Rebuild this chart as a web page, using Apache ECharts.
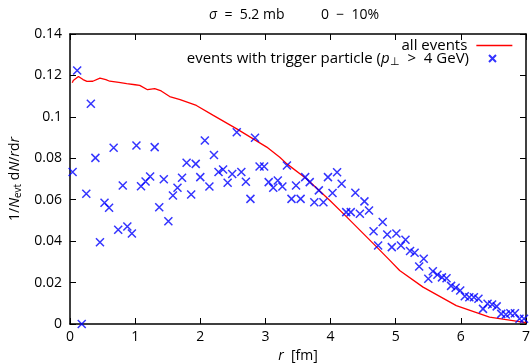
<!DOCTYPE html>
<html><head><meta charset="utf-8">
<script src="https://cdn.jsdelivr.net/npm/echarts@6/dist/echarts.min.js"></script>
<style>html,body{margin:0;padding:0;background:#fff}#c{width:531px;height:364px}</style>
</head><body><div id="c"></div>
<script>
const FONT = 'Open Sans';
const xTickLabels = ['0','1','2','3','4','5','6','7'];
const yTickLabels = ['0','0.02','0.04','0.06','0.08','0.1','0.12','0.14'];

const allR = [0.035,0.05,0.13,0.2,0.26,0.35,0.46,0.55,0.61,0.75,0.87,1.0,1.07,1.19,1.3,1.4,1.53,1.69,1.94,2.2,2.56,3.02,3.22,3.33,3.63,3.99,4.25,4.71,4.91,5.06,5.42,5.93,6.44,6.95,7.0];
const allY = [0.1165,0.1176,0.1195,0.1180,0.1171,0.1172,0.1187,0.1180,0.1172,0.1166,0.1160,0.1155,0.1152,0.1131,0.1136,0.1125,0.1098,0.1083,0.1055,0.1007,0.0942,0.0854,0.0805,0.0773,0.0701,0.0596,0.0516,0.0371,0.0307,0.0258,0.0178,0.0089,0.0033,0.0009,0.0006];

const trigR = [0.04,0.11,0.18,0.25,0.32,0.39,0.46,0.53,0.6,0.67,0.74,0.81,0.88,0.95,1.02,1.09,1.16,1.23,1.3,1.37,1.44,1.51,1.58,1.65,1.72,1.79,1.86,1.93,2.0,2.07,2.14,2.21,2.28,2.35,2.42,2.49,2.56,2.63,2.7,2.77,2.84,2.91,2.98,3.05,3.12,3.19,3.26,3.33,3.4,3.47,3.54,3.61,3.68,3.75,3.82,3.89,3.96,4.03,4.1,4.17,4.24,4.31,4.38,4.45,4.52,4.59,4.66,4.73,4.8,4.87,4.94,5.01,5.08,5.15,5.22,5.29,5.36,5.43,5.5,5.57,5.64,5.71,5.78,5.85,5.92,5.99,6.06,6.13,6.2,6.27,6.34,6.41,6.48,6.55,6.62,6.69,6.76,6.83,6.9,6.97];
const trigY = [0.0734,0.1224,0.0000,0.0629,0.1063,0.0802,0.0395,0.0585,0.0561,0.0851,
0.0455,0.0669,0.0471,0.0437,0.0862,0.0665,0.0688,0.0712,0.0854,0.0564,
0.0699,0.0496,0.0620,0.0658,0.0706,0.0778,0.0625,0.0773,0.0709,0.0886,
0.0664,0.0816,0.0734,0.0746,0.0682,0.0724,0.0926,0.0734,0.0687,0.0604,
0.0899,0.0760,0.0760,0.0685,0.0658,0.0693,0.0664,0.0765,0.0604,0.0669,
0.0604,0.0709,0.0685,0.0588,0.0645,0.0588,0.0709,0.0632,0.0733,0.0677,
0.0540,0.0540,0.0634,0.0532,0.0592,0.0548,0.0448,0.0379,0.0492,0.0432,
0.0371,0.0437,0.0379,0.0407,0.0352,0.0344,0.0278,0.0315,0.0218,0.0255,
0.0238,0.0225,0.0221,0.0184,0.0175,0.0162,0.0134,0.0129,0.0129,0.0122,
0.0073,0.0098,0.0094,0.0085,0.0049,0.0046,0.0052,0.0052,0.0025,0.0025];

const chart = echarts.init(document.getElementById('c'));
const axisLine = {show: true, onZero: false, lineStyle: {color: '#000', width: 1.5}};
const tick = {show: true, inside: true, length: 6, lineStyle: {color: '#000', width: 1}};
const labelStyle = {color: '#000', fontFamily: FONT, fontSize: 14};
const CROSS = 'path://M0 0L8 8M8 0L0 8';
chart.setOption({
  animation: false,
  backgroundColor: '#fff',
  title: {
    text: '{i|σ}  =  5.2 mb          0  −  10%',
    left: 289, textAlign: 'center', top: 3,
    textStyle: {fontFamily: FONT, fontSize: 14, fontWeight: 'normal', color: '#000',
      rich: {i: {fontFamily: FONT, fontSize: 14, fontStyle: 'italic', color: '#000'}}}
  },
  grid: {left: 70, right: 5, top: 34, bottom: 40, outerBoundsMode: 'none', containLabel: false},
  legend: [
    {data: ['all events'], align: 'right', right: 18, top: 38, padding: 0,
     itemWidth: 36, itemHeight: 10,
     itemStyle: {color: 'rgba(0,0,0,0)', borderColor: 'rgba(0,0,0,0)', borderWidth: 0},
     lineStyle: {color: '#ff0000', width: 1.3},
     formatter: '{t|all events}{p|}',
     textStyle: {color: '#000', fontFamily: FONT, fontSize: 15, rich: {t: {fontFamily: FONT, fontSize: 15, color: '#000'}, p: {width: 4}}}},
    {data: ['trigger'], align: 'right', right: 34, top: 51, padding: 0, itemWidth: 7, itemHeight: 7,
     formatter: '{t|events with trigger particle (}{i|p}{s|⊥}{t|  >  4 GeV)}{p|}',
     textStyle: {color: '#000', fontFamily: FONT, fontSize: 15,
       rich: {t: {fontFamily: FONT, fontSize: 15, color: '#000'},
              i: {fontFamily: FONT, fontSize: 15, fontStyle: 'italic', color: '#000'},
              s: {fontFamily: FONT, fontSize: 11, color: '#000', padding: [6, 0, 0, 0]},
              p: {width: 15}}}}
  ],
  xAxis: [
    {type: 'value', min: 0, max: 7, interval: 1, position: 'bottom',
     axisLine, axisTick: tick, splitLine: {show: false},
     axisLabel: Object.assign({margin: 6, formatter: v => xTickLabels[Math.round(v)]}, labelStyle),
     name: '{i|r}  [fm]', nameLocation: 'middle', nameGap: 21,
     nameTextStyle: {fontFamily: FONT, fontSize: 14, color: '#000',
       rich: {i: {fontFamily: FONT, fontSize: 14, fontStyle: 'italic', color: '#000'}}}},
    {type: 'value', min: 0, max: 7, interval: 1, position: 'top',
     axisLine, axisTick: tick, splitLine: {show: false}, axisLabel: {show: false}}
  ],
  yAxis: [
    {type: 'value', min: 0, max: 0.14, interval: 0.02, position: 'left',
     axisLine, axisTick: tick, splitLine: {show: false},
     axisLabel: Object.assign({margin: 8, formatter: v => yTickLabels[Math.round(v / 0.02)]}, labelStyle),
     name: '1/{i|N}{s|evt} d{i|N}/{i|r}d{i|r}', nameLocation: 'middle', nameGap: 47, nameRotate: 90,
     nameTextStyle: {fontFamily: FONT, fontSize: 14, color: '#000',
       rich: {i: {fontFamily: FONT, fontSize: 14, fontStyle: 'italic', color: '#000'},
              s: {fontFamily: FONT, fontSize: 10, color: '#000', padding: [6, 0, 0, 0]}}}},
    {type: 'value', min: 0, max: 0.14, interval: 0.02, position: 'right',
     axisLine, axisTick: tick, splitLine: {show: false}, axisLabel: {show: false}}
  ],
  series: [
    {name: 'all events', type: 'line', symbol: 'none', smooth: false,
     lineStyle: {color: '#ff0000', width: 1.3}, itemStyle: {color: '#ff0000'},
     data: allR.map((r, i) => [r, allY[i]]), z: 2},
    {name: 'trigger', type: 'scatter', symbol: CROSS, symbolSize: 8, clip: false,
     itemStyle: {color: '#0000ff', borderColor: '#0000ff', borderWidth: 1.5},
     data: trigR.map((r, i) => [r, trigY[i]]), z: 3}
  ]
});
</script></body></html>
